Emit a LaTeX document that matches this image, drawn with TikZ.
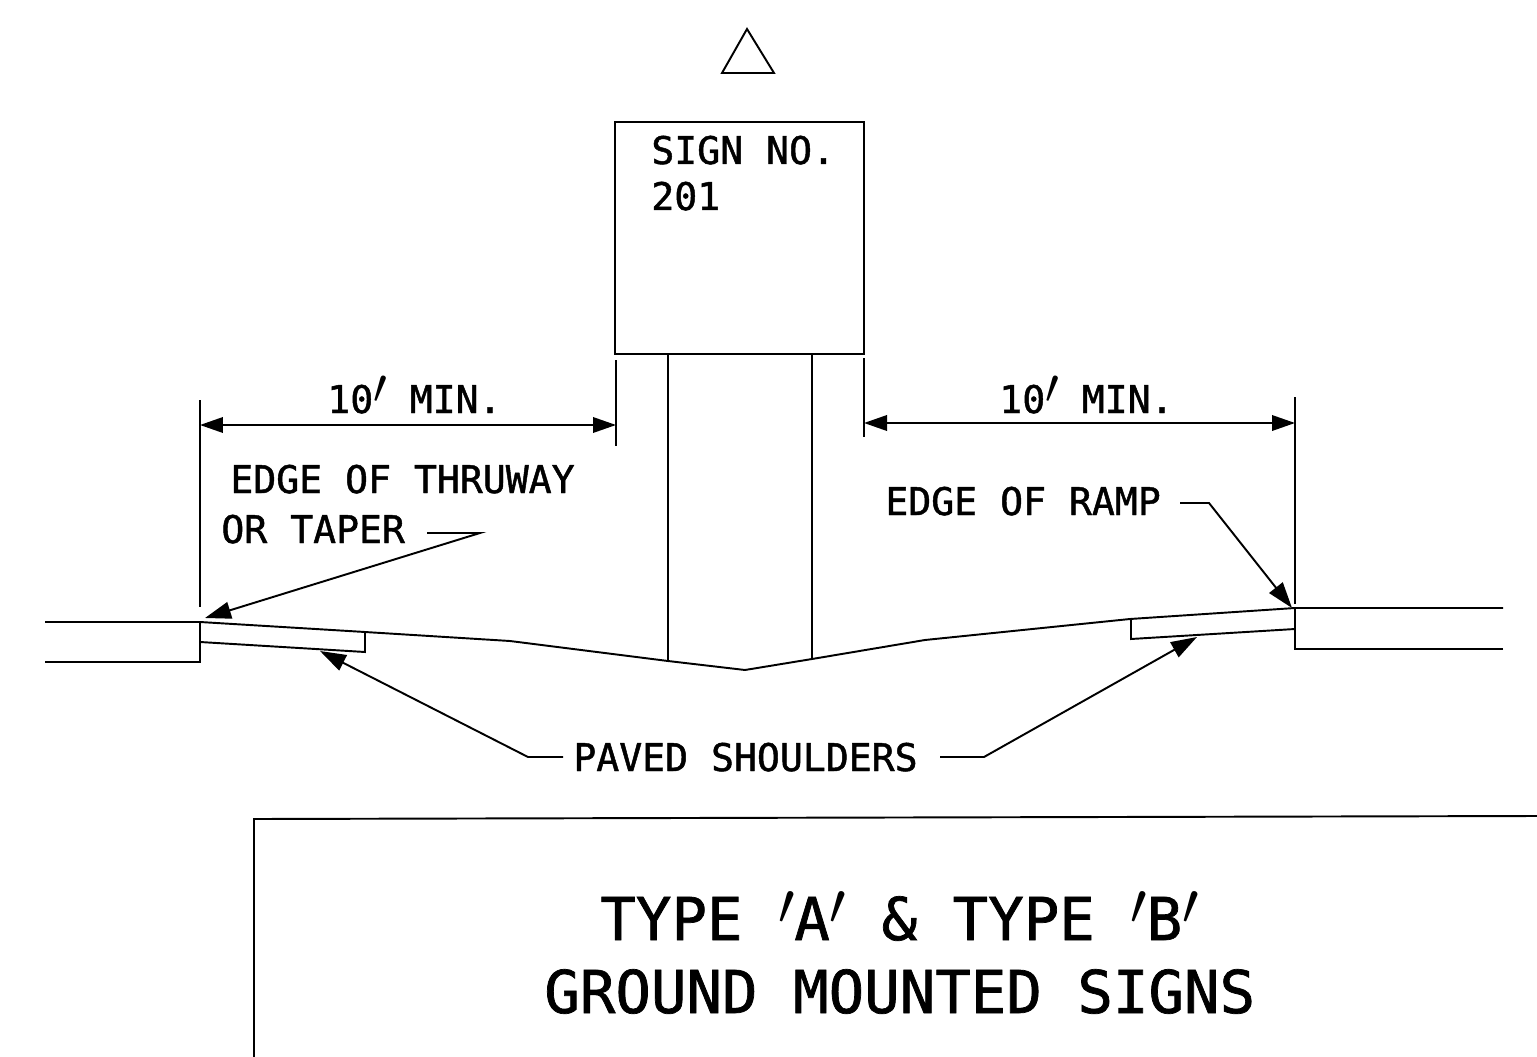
\documentclass[tikz,border=0pt]{standalone}
\usepackage{fontspec}
\setmainfont[FakeBold=1.2]{DejaVu Sans Mono}
\usepackage{tikz}
\usetikzlibrary{arrows.meta}
\newcommand{\prim}{\raisebox{0.26em}{\scalebox{1.35}{$\prime$}}}
\tikzset{
    ligne/.style={black,line width=1.1pt},
    fleche/.style={ligne,-{Triangle[length=0.52cm,width=0.34cm]}},
    cote/.style={ligne,{Triangle[length=0.46cm,width=0.31cm]}-{Triangle[length=0.46cm,width=0.31cm]}},
    etiquette/.style={inner sep=0pt,anchor=base west,font=\fontsize{21.7}{26}\selectfont},
    titre/.style={inner sep=0pt,anchor=base west,font=\fontsize{33.6}{40}\selectfont}
}
\begin{document}
\begin{tikzpicture}[x=0.02cm,y=-0.02cm]
    \useasboundingbox (0,0) rectangle (1537,1057);
    % Triangle
    \draw[ligne] (747,29) -- (774,73) -- (722,73) -- cycle;

    % Panneau
    \node[draw,ligne,minimum width=4.98cm,minimum height=4.64cm,inner sep=0pt] (panneau) at (739.5,238) {};
    \node[etiquette] (numero) at (651,164) {SIGN NO.};
    \node[etiquette] (chiffre) at (651,210) {201};

    % Poteaux
    \draw[ligne] (668,354) -- (668,661);
    \draw[ligne] (812,354) -- (812,659);

    % Lignes de rappel
    \draw[ligne] (616,360) -- (616,446);
    \draw[ligne] (864,358) -- (864,437);
    \draw[ligne] (200,400) -- (200,607);
    \draw[ligne] (1295,397) -- (1295,604);

    % Cotes
    \coordinate (gaucheA) at (200,425);
    \coordinate (gaucheB) at (616,425);
    \coordinate (droiteA) at (864,423);
    \coordinate (droiteB) at (1295,423);
    \draw[cote] (gaucheA) -- (gaucheB);
    \draw[cote] (droiteA) -- (droiteB);
    \node[etiquette] (coteg) at (327,413) {10\prim\ MIN.};
    \node[etiquette] (coted) at (999,413) {10\prim\ MIN.};

    % Sol
    \draw[ligne] (45,622) -- (200,622) -- (365,632) -- (510,641) -- (668,661) -- (745,670) -- (812,659) -- (925,640) -- (1130,619) -- (1295,608) -- (1503,608);
    \draw[ligne] (45,662) -- (200,662) -- (200,622);
    \draw[ligne] (1503,649) -- (1295,649) -- (1295,608);

    % Accotements
    \draw[ligne] (200,642) -- (365,652) -- (365,632);
    \draw[ligne] (1131,619) -- (1131,639) -- (1295,629);

    % Textes et renvois
    \node[etiquette] (thruway) at (230,493) {EDGE OF THRUWAY};
    \node[etiquette] (taper) at (221,543) {OR TAPER};
    \node[etiquette] (rampe) at (885,515) {EDGE OF RAMP};
    \node[etiquette] (accot) at (573,771) {PAVED SHOULDERS};
    \coordinate (pointT) at (205,618);
    \coordinate (pointR) at (1292,608);
    \coordinate (pointG) at (320,651);
    \coordinate (pointD) at (1197,637);
    \draw[fleche] (427,533) -- (480,533) -- (pointT);
    \draw[fleche] (1180,503) -- (1209,503) -- (pointR);
    \draw[fleche] (563,757) -- (528,757) -- (pointG);
    \draw[fleche] (940,757) -- (984,757) -- (pointD);

    % Cartouche
    \draw[ligne] (1537,816) -- (254,819) -- (254,1057);
    \node[titre] (type) at (600,940) {TYPE \prim A\prim\ \& TYPE \prim B\prim};
    \node[titre] (ground) at (544,1013) {GROUND MOUNTED SIGNS};
\end{tikzpicture}
\end{document}
